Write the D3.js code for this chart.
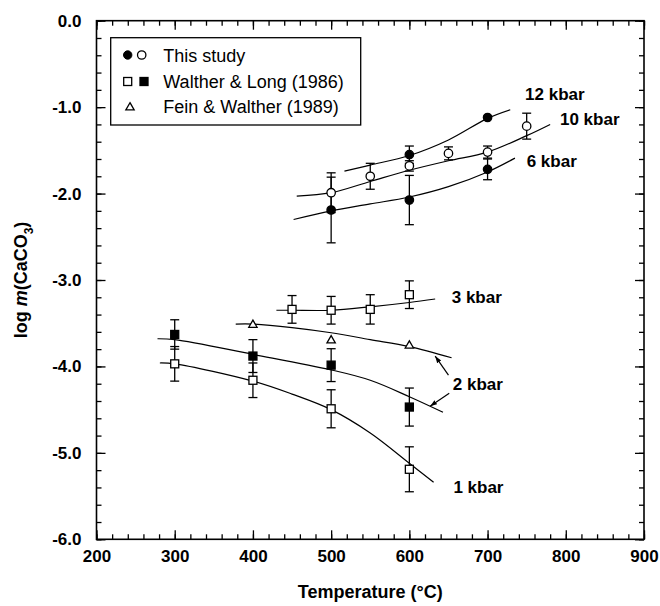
<!DOCTYPE html>
<html>
<head>
<meta charset="utf-8">
<script src="https://cdn.jsdelivr.net/npm/d3@7"></script>
<style>
  html, body { margin: 0; padding: 0; background: #fff; }
  svg { display: block; font-family: "Liberation Sans", Arial, sans-serif; }
</style>
</head>
<body>
<svg id="chart" width="660" height="606"></svg>
<script>
// --- DATA ---
// points are [T (°C), log m(CaCO3), error]
const study12kbar = [[600, -1.55, 0.10], [700, -1.12, 0]];
const study10kbar = [[500, -1.99, 0.23], [550, -1.80, 0.15], [600, -1.68, 0.06], [650, -1.535, 0.075], [700, -1.52, 0.07], [750, -1.22, 0.15]];
const study6kbar  = [[500, -2.19, 0.38], [600, -2.075, 0.285], [700, -1.72, 0.12]];
const wl3kbar = [[450, -3.34, 0.16], [500, -3.35, 0.16], [550, -3.34, 0.17], [600, -3.17, 0.16]];
const wl2kbar = [[300, -3.63, 0.17], [400, -3.88, 0.19], [500, -3.985, 0.19], [600, -4.47, 0.22]];
const wl1kbar = [[300, -3.97, 0.20], [400, -4.16, 0.20], [500, -4.49, 0.22], [600, -5.19, 0.26]];
const fw2kbar = [[400, -3.51], [500, -3.69], [600, -3.75]];

// fitted curves, [T, log m]
const fit12kbar = [[517, -1.74], [550, -1.67], [600, -1.56], [650, -1.38], [700, -1.13], [729, -1.03]];
const fit10kbar = [[456, -2.03], [500, -1.99], [550, -1.86], [600, -1.73], [650, -1.62], [700, -1.52], [750, -1.33], [780, -1.20]];
const fit6kbar  = [[452, -2.30], [500, -2.20], [550, -2.12], [600, -2.04], [650, -1.92], [700, -1.75], [735, -1.59]];
const fit3kbar  = [[430, -3.35], [450, -3.35], [500, -3.35], [550, -3.31], [600, -3.26], [633, -3.22]];
const fitFw2kbar = [[378, -3.51], [400, -3.51], [450, -3.55], [500, -3.61], [550, -3.69], [600, -3.77], [654, -3.90]];
const fitWl2kbar = [[278, -3.68], [300, -3.69], [400, -3.86], [500, -4.04], [550, -4.16], [600, -4.35], [643, -4.53]];
const fit1kbar  = [[281, -3.96], [300, -3.97], [400, -4.17], [450, -4.32], [500, -4.50], [550, -4.77], [600, -5.12], [631, -5.34]];

// curve labels: text + anchor (left/baseline) in data units
const curveLabels = [
    ["12 kbar", 748, -0.92], ["10 kbar", 792.6, -1.21], ["6 kbar", 750, -1.69],
    ["3 kbar", 654.2, -3.27], ["2 kbar", 655.5, -4.27], ["1 kbar", 656.3, -5.47]
];
// 2 kbar arrows: [tailT, tailV, headT, headV]
const arrows2kbar = [[650, -4.10, 633, -3.88], [651, -4.31, 626.5, -4.46]];

const xTicks = [200, 300, 400, 500, 600, 700, 800, 900];
const yTicks = [-6, -5, -4, -3, -2, -1, 0];
const xMinor = d3.range(200, 901, 20);
const yMinor = d3.range(-60, 1, 2).map(d => d / 10);

// --- LAYOUT ---
const width = 660, height = 606;
const marginTop = 20.7, marginRight = 16, marginBottom = 66.7, marginLeft = 96.5;
const FONT = '"Liberation Sans", Arial, sans-serif';

const x = d3.scaleLinear().domain([200, 900]).range([marginLeft, width - marginRight]);
const y = d3.scaleLinear().domain([-6, 0]).range([height - marginBottom, marginTop]);

const svg = d3.select("#chart");

// --- AXES (ticks point inwards on all four sides) ---
function styleAxis(g) {
    g.attr("font-family", FONT).attr("font-size", 17).attr("font-weight", "bold");
    g.select(".domain").remove();
    g.selectAll(".tick line").attr("stroke", "#000").attr("stroke-width", 1.3);
    g.selectAll(".tick text").attr("fill", "#000");
}
const yb = height - marginBottom, xr = width - marginRight;

svg.append("g").attr("transform", `translate(0,${yb})`)
    .call(d3.axisBottom(x).tickValues(xMinor).tickSize(-5).tickFormat("")).call(styleAxis);
svg.append("g").attr("transform", `translate(0,${yb})`)
    .call(d3.axisBottom(x).tickValues(xTicks).tickSize(-9).tickPadding(11).tickFormat(d3.format("d"))).call(styleAxis);
svg.append("g").attr("transform", `translate(0,${marginTop})`)
    .call(d3.axisTop(x).tickValues(xMinor).tickSize(-5).tickFormat("")).call(styleAxis);
svg.append("g").attr("transform", `translate(0,${marginTop})`)
    .call(d3.axisTop(x).tickValues(xTicks).tickSize(-9).tickFormat("")).call(styleAxis);

svg.append("g").attr("transform", `translate(${marginLeft},0)`)
    .call(d3.axisLeft(y).tickValues(yMinor).tickSize(-5).tickFormat("")).call(styleAxis);
svg.append("g").attr("transform", `translate(${marginLeft},0)`)
    .call(d3.axisLeft(y).tickValues(yTicks).tickSize(-9).tickPadding(15).tickFormat(d => d.toFixed(1))).call(styleAxis);
svg.append("g").attr("transform", `translate(${xr},0)`)
    .call(d3.axisRight(y).tickValues(yMinor).tickSize(-5).tickFormat("")).call(styleAxis);
svg.append("g").attr("transform", `translate(${xr},0)`)
    .call(d3.axisRight(y).tickValues(yTicks).tickSize(-9).tickFormat("")).call(styleAxis);

// frame
svg.append("rect")
    .attr("x", marginLeft).attr("y", marginTop)
    .attr("width", xr - marginLeft).attr("height", yb - marginTop)
    .attr("fill", "none").attr("stroke", "#000").attr("stroke-width", 1.6);

// axis titles
svg.append("text")
    .attr("x", (marginLeft + xr) / 2).attr("y", 598)
    .attr("text-anchor", "middle")
    .attr("font-family", FONT).attr("font-size", 18).attr("font-weight", "bold")
    .text("Temperature (°C)");

const yTitle = svg.append("text")
    .attr("transform", `translate(27,${(marginTop + yb) / 2}) rotate(-90)`)
    .attr("text-anchor", "middle")
    .attr("font-family", FONT).attr("font-size", 18).attr("font-weight", "bold");
yTitle.append("tspan").text("log ");
yTitle.append("tspan").attr("font-style", "italic").text("m");
yTitle.append("tspan").text("(CaCO");
yTitle.append("tspan").attr("font-size", 12).attr("dy", 6).text("3");
yTitle.append("tspan").attr("dy", -6).text(")");

// --- CURVES ---
const line = d3.line()
    .x(d => x(d[0]))
    .y(d => y(d[1]))
    .curve(d3.curveCatmullRom.alpha(0.5));

svg.append("g")
    .attr("fill", "none").attr("stroke", "#000").attr("stroke-width", 1.2)
    .selectAll("path")
    .data([fit12kbar, fit10kbar, fit6kbar, fit3kbar, fitFw2kbar, fitWl2kbar, fit1kbar])
    .join("path")
    .attr("d", line);

// --- ERROR BARS ---
const errData = [...study12kbar, ...study10kbar, ...study6kbar, ...wl3kbar, ...wl2kbar, ...wl1kbar].filter(d => d[2] > 0);
const cap = 4.5;
const eb = svg.append("g").attr("stroke", "#000").attr("stroke-width", 1.3);
eb.selectAll("line.v").data(errData).join("line").attr("class", "v")
    .attr("x1", d => x(d[0])).attr("x2", d => x(d[0]))
    .attr("y1", d => y(d[1] + d[2])).attr("y2", d => y(d[1] - d[2]));
eb.selectAll("line.t").data(errData).join("line").attr("class", "t")
    .attr("x1", d => x(d[0]) - cap).attr("x2", d => x(d[0]) + cap)
    .attr("y1", d => y(d[1] + d[2])).attr("y2", d => y(d[1] + d[2]));
eb.selectAll("line.b").data(errData).join("line").attr("class", "b")
    .attr("x1", d => x(d[0]) - cap).attr("x2", d => x(d[0]) + cap)
    .attr("y1", d => y(d[1] - d[2])).attr("y2", d => y(d[1] - d[2]));

// --- MARKERS ---
const marks = svg.append("g").attr("stroke", "#000").attr("stroke-width", 1.3);

function circles(data, fill) {
    marks.append("g").selectAll("circle").data(data).join("circle")
        .attr("cx", d => x(d[0])).attr("cy", d => y(d[1]))
        .attr("r", 4.2).attr("fill", fill);
}
function squares(data, fill) {
    marks.append("g").selectAll("rect").data(data).join("rect")
        .attr("x", d => x(d[0]) - 4).attr("y", d => y(d[1]) - 4)
        .attr("width", 8).attr("height", 8).attr("fill", fill);
}
const tri = d3.symbol(d3.symbolTriangle, 30);

circles(study12kbar, "#000");
circles(study6kbar, "#000");
circles(study10kbar, "#fff");
squares(wl3kbar, "#fff");
squares(wl1kbar, "#fff");
squares(wl2kbar, "#000");
marks.append("g").selectAll("path").data(fw2kbar).join("path")
    .attr("transform", d => `translate(${x(d[0])},${y(d[1]) + 0.8})`)
    .attr("d", tri).attr("fill", "#fff");

// --- LABELS & ARROWS ---
svg.append("defs").append("marker")
    .attr("id", "arrowhead").attr("viewBox", "0 0 10 10")
    .attr("refX", 10).attr("refY", 5)
    .attr("markerWidth", 7).attr("markerHeight", 7).attr("markerUnits", "userSpaceOnUse")
    .attr("orient", "auto")
    .append("path").attr("d", "M0,1.5L10,5L0,8.5z").attr("fill", "#000");

svg.append("g").attr("stroke", "#000").attr("stroke-width", 1.2)
    .selectAll("line").data(arrows2kbar).join("line")
    .attr("x1", d => x(d[0])).attr("y1", d => y(d[1]))
    .attr("x2", d => x(d[2])).attr("y2", d => y(d[3]))
    .attr("marker-end", "url(#arrowhead)");

svg.append("g")
    .attr("font-family", FONT).attr("font-size", 17).attr("font-weight", "bold")
    .selectAll("text").data(curveLabels).join("text")
    .attr("x", d => x(d[1])).attr("y", d => y(d[2]))
    .text(d => d[0]);

// --- LEGEND ---
const legend = svg.append("g");
legend.append("rect")
    .attr("x", 110.7).attr("y", 37.7).attr("width", 250).attr("height", 87.3)
    .attr("fill", "#fff").attr("stroke", "#000").attr("stroke-width", 1.3);

const legendRows = ["This study", "Walther & Long (1986)", "Fein & Walther (1989)"];
const rowY = [55, 81.5, 106.7];

legend.append("circle").attr("cx", 127.7).attr("cy", rowY[0]).attr("r", 4.2).attr("fill", "#000").attr("stroke", "#000");
legend.append("circle").attr("cx", 141.7).attr("cy", rowY[0]).attr("r", 4.2).attr("fill", "#fff").attr("stroke", "#000").attr("stroke-width", 1.3);
legend.append("rect").attr("x", 123.7).attr("y", rowY[1] - 4).attr("width", 8).attr("height", 8).attr("fill", "#fff").attr("stroke", "#000").attr("stroke-width", 1.3);
legend.append("rect").attr("x", 140).attr("y", rowY[1] - 4).attr("width", 8).attr("height", 8).attr("fill", "#000").attr("stroke", "#000").attr("stroke-width", 1.3);
legend.append("path").attr("transform", `translate(130,${rowY[2] + 0.8})`).attr("d", tri).attr("fill", "#fff").attr("stroke", "#000").attr("stroke-width", 1.3);

legend.selectAll("text").data(legendRows).join("text")
    .attr("x", 163.3).attr("y", (d, i) => rowY[i] + 6.5)
    .attr("font-family", FONT).attr("font-size", 18)
    .text(d => d);
</script>
</body>
</html>
